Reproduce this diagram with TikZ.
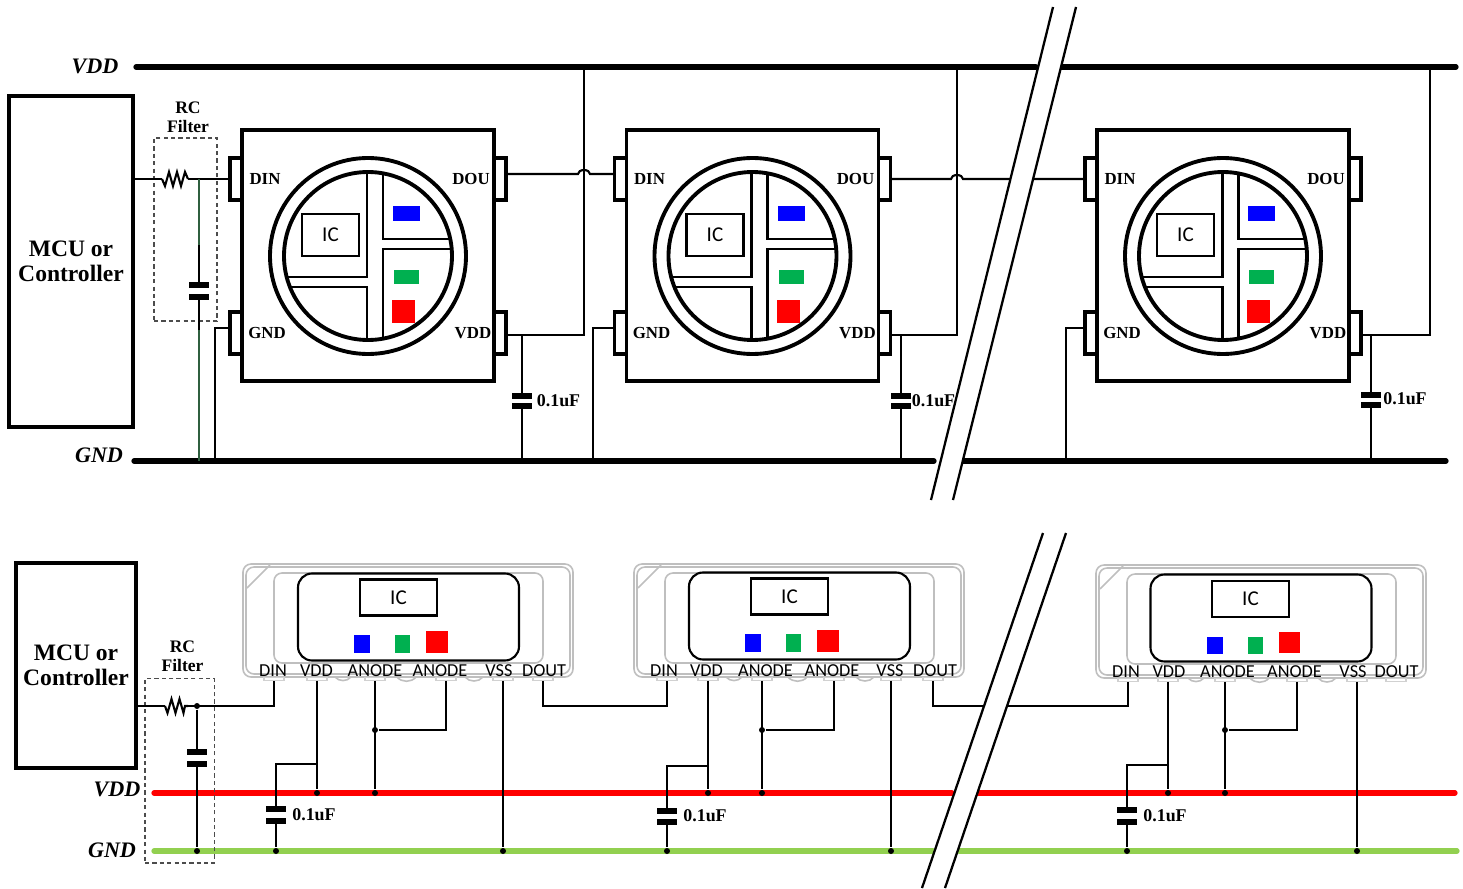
\documentclass[tikz,border=0pt]{standalone}
\usepackage{fontspec}
\setmainfont{Liberation Serif}
\newfontfamily\pinfont{Carlito}
\definecolor{ledgreen}{HTML}{00B050}
\definecolor{gndgreen}{HTML}{92D050}
\definecolor{tracegreen}{HTML}{2F5F3F}
\begin{document}
\begin{tikzpicture}
[
	rail/.style={line width=1.5pt,line cap=round},
	wire/.style={line width=0.6pt},
	mcu/.style={draw,line width=1.2pt,inner sep=0,outer sep=0,align=center,font=\bfseries\fontsize{6.7}{7}\selectfont},
	pin/.style={draw,fill=white,line width=1pt,inner sep=0,outer sep=0,minimum width=0.12cm,minimum height=0.42cm},
	body/.style={draw,line width=1.1pt,inner sep=0,outer sep=0,minimum width=2.52cm,minimum height=2.51cm},
	ring/.style={line width=1.1pt},
	cross/.style={line width=0.85pt},
	icbox/.style={draw,line width=0.6pt,fill=white,inner sep=0,font=\pinfont\fontsize{6}{7}\selectfont},
	toplabel/.style={font=\bfseries\fontsize{4.8}{5.5}\selectfont,inner sep=0},
	caplabel/.style={font=\bfseries\fontsize{5.1}{6}\selectfont,inner sep=0},
	rclabel/.style={font=\bfseries\fontsize{5}{5.4}\selectfont,inner sep=0,align=center},
	railname/.style={font=\bfseries\itshape\fontsize{6.3}{7}\selectfont,inner sep=0},
	plate/.style={fill=black,inner sep=0,outer sep=0,minimum width=0.2cm,minimum height=0.055cm},
	filterbox/.style={draw=black!70,line width=0.4pt,dash pattern=on 1.2pt off 0.9pt,inner sep=0},
	shell/.style={draw=black!25,line width=0.45pt,rounded corners=0.08cm},
	core/.style={draw,line width=0.6pt,inner sep=0,rounded corners=0.14cm,minimum width=2.21cm,minimum height=0.87cm},
	pad/.style={draw=black!18,fill=white,line width=0.3pt,inner sep=0,outer sep=0,minimum width=0.2cm,minimum height=0.035cm},
	pinname/.style={font=\pinfont\fontsize{5.2}{6}\selectfont,inner sep=0},
	dot/.style={circle,fill=black,inner sep=0,minimum size=0.06cm},
	slash/.style={line width=0.65pt}
]

\useasboundingbox (0,0) rectangle (14.63,-8.89);

% upper strip, chips first
\node[mcu,minimum width=1.24cm,minimum height=3.31cm] (mcuT) at (0.71,-2.615) {MCU or\\Controller};

\node[pin] (dinA) at (2.36,-1.79) {};
\node[pin] (gndA) at (2.36,-3.33) {};
\node[pin] (douA) at (5.00,-1.79) {};
\node[pin] (vddA) at (5.00,-3.33) {};
\node[body] (chipA) at (3.68,-2.555) {};
\draw[ring] (3.68,-2.56) circle (0.98);
\draw[ring] (3.68,-2.56) circle (0.84);
\draw[cross] (3.67,-1.72) |- (2.87,-2.77);
\draw[cross] (3.67,-3.40) |- (2.90,-2.87);
\draw[cross] (3.83,-1.73) |- (4.50,-2.39);
\draw[cross] (3.83,-3.39) |- (4.52,-2.49);
\node[icbox,minimum width=0.57cm,minimum height=0.42cm] (icA) at (3.305,-2.35) {IC};
\fill[blue] (3.93,-2.06) rectangle +(0.27,-0.15);
\fill[ledgreen] (3.94,-2.70) rectangle +(0.25,-0.14);
\fill[red] (3.92,-3.00) rectangle +(0.23,-0.23);
\node[toplabel] (dinAt) at (2.65,-1.79) {DIN};
\node[toplabel] (douAt) at (4.71,-1.79) {DOU};
\node[toplabel] (gndAt) at (2.67,-3.33) {GND};
\node[toplabel] (vddAt) at (4.73,-3.33) {VDD};

\node[pin] (dinB) at (6.205,-1.79) {};
\node[pin] (gndB) at (6.205,-3.33) {};
\node[pin] (douB) at (8.845,-1.79) {};
\node[pin] (vddB) at (8.845,-3.33) {};
\node[body] (chipB) at (7.525,-2.555) {};
\draw[ring] (7.525,-2.56) circle (0.98);
\draw[ring] (7.525,-2.56) circle (0.84);
\draw[cross] (7.515,-1.72) |- (6.715,-2.77);
\draw[cross] (7.515,-3.40) |- (6.745,-2.87);
\draw[cross] (7.675,-1.73) |- (8.345,-2.39);
\draw[cross] (7.675,-3.39) |- (8.365,-2.49);
\node[icbox,minimum width=0.57cm,minimum height=0.42cm] (icB) at (7.15,-2.35) {IC};
\fill[blue] (7.775,-2.06) rectangle +(0.27,-0.15);
\fill[ledgreen] (7.785,-2.70) rectangle +(0.25,-0.14);
\fill[red] (7.765,-3.00) rectangle +(0.23,-0.23);
\node[toplabel] (dinBt) at (6.495,-1.79) {DIN};
\node[toplabel] (douBt) at (8.555,-1.79) {DOU};
\node[toplabel] (gndBt) at (6.515,-3.33) {GND};
\node[toplabel] (vddBt) at (8.575,-3.33) {VDD};

\node[pin] (dinC) at (10.91,-1.79) {};
\node[pin] (gndC) at (10.91,-3.33) {};
\node[pin] (douC) at (13.55,-1.79) {};
\node[pin] (vddC) at (13.55,-3.33) {};
\node[body] (chipC) at (12.23,-2.555) {};
\draw[ring] (12.23,-2.56) circle (0.98);
\draw[ring] (12.23,-2.56) circle (0.84);
\draw[cross] (12.22,-1.72) |- (11.42,-2.77);
\draw[cross] (12.22,-3.40) |- (11.45,-2.87);
\draw[cross] (12.38,-1.73) |- (13.05,-2.39);
\draw[cross] (12.38,-3.39) |- (13.07,-2.49);
\node[icbox,minimum width=0.57cm,minimum height=0.42cm] (icC) at (11.855,-2.35) {IC};
\fill[blue] (12.48,-2.06) rectangle +(0.27,-0.15);
\fill[ledgreen] (12.49,-2.70) rectangle +(0.25,-0.14);
\fill[red] (12.47,-3.00) rectangle +(0.23,-0.23);
\node[toplabel] (dinCt) at (11.20,-1.79) {DIN};
\node[toplabel] (douCt) at (13.26,-1.79) {DOU};
\node[toplabel] (gndCt) at (11.22,-3.33) {GND};
\node[toplabel] (vddCt) at (13.28,-3.33) {VDD};


% upper rails
\node[railname] (vddT) at (0.95,-0.66) {VDD};
\node[railname] (gndT) at (0.99,-4.55) {GND};

\coordinate (vddTa) at (1.36,-0.67);
\coordinate (vddTb) at (10.36,-0.67);
\coordinate (vddTc) at (10.61,-0.67);
\coordinate (vddTd) at (14.56,-0.67);
\coordinate (gndTa) at (1.34,-4.61);
\coordinate (gndTb) at (9.34,-4.61);
\coordinate (gndTc) at (9.63,-4.61);
\coordinate (gndTd) at (14.46,-4.61);

\draw[rail] (vddTa) -- (vddTb);
\draw[rail] (vddTc) -- (vddTd);
\draw[rail] (gndTa) -- (gndTb);
\draw[rail] (gndTc) -- (gndTd);


% upper RC filter
\node[filterbox,minimum width=0.63cm,minimum height=1.83cm] (filterT) at (1.855,-2.295) {};
\node[rclabel] (rcT) at (1.88,-1.17) {RC\\Filter};

\coordinate (resTa) at (1.62,-1.79);
\coordinate (resTb) at (1.88,-1.79);
\coordinate (forkT) at (1.99,-1.79);
\coordinate (greenTa) at (1.99,-2.45);
\coordinate (greenTb) at (1.99,-3.30);
\coordinate (greenTc) at (1.99,-4.61);

\node[plate] (capTa) at (1.99,-2.85) {};
\node[plate] (capTb) at (1.99,-2.97) {};

\draw[wire] (mcuT.east |- dinA.west) -- (resTa);
\draw[wire] (resTa) -- ++(0.03,-0.07) -- ++(0.04,0.14) -- ++(0.04,-0.14) -- ++(0.04,0.14) -- ++(0.04,-0.14) -- ++(0.04,0.14) -- (resTb);
\draw[wire] (resTb) -- (dinA.west);
\draw[wire,tracegreen] (forkT) -- (greenTa);
\draw[wire] (greenTa) -- (capTa.north);
\draw[wire] (capTb.south) -- (greenTb);
\draw[wire,tracegreen] (greenTb) -- (greenTc);


% upper wires
\coordinate (gtapA) at (2.15,-4.61);
\coordinate (gtapB) at (5.93,-4.61);
\coordinate (gtapC) at (10.66,-4.61);
\coordinate (tapA) at (5.84,-0.67);
\coordinate (tapB) at (9.57,-0.67);
\coordinate (tapC) at (14.30,-0.67);
\coordinate (vjA) at (5.22,-3.35);
\coordinate (vjB) at (9.01,-3.35);
\coordinate (vjC) at (13.71,-3.35);

\draw[wire] ([yshift=0.05cm]gndA.west) -| (gtapA);
\draw[wire] ([yshift=0.05cm]gndB.west) -| (gtapB);
\draw[wire] ([yshift=0.05cm]gndC.west) -| (gtapC);
\draw[wire] (tapA) |- ([yshift=-0.02cm]vddA.east);
\draw[wire] (tapB) |- ([yshift=-0.02cm]vddB.east);
\draw[wire] (tapC) |- ([yshift=-0.02cm]vddC.east);

\draw[wire] ([yshift=0.05cm]douA.east) -- (5.78,-1.74) arc[start angle=180,end angle=0,x radius=0.06,y radius=0.04] -- ([yshift=0.05cm]dinB.west);
\draw[wire] (douB.east) -- (9.51,-1.79) arc[start angle=180,end angle=0,x radius=0.06,y radius=0.04] -- (dinC.west);

\node[plate] (capAa) at (5.22,-3.96) {};
\node[plate] (capAb) at (5.22,-4.06) {};
\node[plate] (capBa) at (9.01,-3.96) {};
\node[plate] (capBb) at (9.01,-4.06) {};
\node[plate] (capCa) at (13.71,-3.95) {};
\node[plate] (capCb) at (13.71,-4.05) {};

\draw[wire] (vjA) -- (capAa.north);
\draw[wire] (capAb.south) -- (capAb.south |- gndTa);
\draw[wire] (vjB) -- (capBa.north);
\draw[wire] (capBb.south) -- (capBb.south |- gndTa);
\draw[wire] (vjC) -- (capCa.north);
\draw[wire] (capCb.south) -- (capCb.south |- gndTa);

\node[caplabel] (ufA) at (5.585,-4.01) {0.1uF};
\node[caplabel] (ufB) at (9.335,-4.01) {0.1uF};
\node[caplabel] (ufC) at (14.05,-3.99) {0.1uF};


% upper break
\fill[white] (10.53,-0.07) -- (10.76,-0.07) -- (9.53,-5.00) -- (9.31,-5.00) -- cycle;
\draw[slash] (10.53,-0.07) -- (9.31,-5.00);
\draw[slash] (10.76,-0.07) -- (9.53,-5.00);


% lower strip, chips first
\node[mcu,minimum width=1.20cm,minimum height=2.05cm] (mcuL) at (0.76,-6.655) {MCU or\\Controller};

\draw[shell] (2.43,-5.64) rectangle +(3.30,-1.13);
\draw[shell] (2.46,-5.67) rectangle +(3.24,-1.07);
\draw[shell] (2.74,-5.73) rectangle +(2.69,-0.90);
\draw[shell,rounded corners=0] (2.47,-5.88) -- (2.70,-5.65);
\draw[shell] (3.35,-6.77) to[bend right=50] ++(0.16,0) (3.97,-6.77) to[bend right=50] ++(0.19,0) (4.65,-6.77) to[bend right=50] ++(0.18,0);
\node[core] (coreD) at (4.085,-6.17) {};
\node[icbox,minimum width=0.77cm,minimum height=0.36cm] (icD) at (3.985,-5.975) {IC};
\fill[blue] (3.54,-6.35) rectangle +(0.16,-0.18);
\fill[ledgreen] (3.95,-6.35) rectangle +(0.15,-0.18);
\fill[red] (4.26,-6.31) rectangle +(0.22,-0.22);
\node[pad] (dinD) at (2.74,-6.79) {};
\node[pad] (vddD) at (3.17,-6.79) {};
\node[pad] (anaD) at (3.75,-6.79) {};
\node[pad] (anbD) at (4.46,-6.79) {};
\node[pad] (vssD) at (5.03,-6.79) {};
\node[pad] (douD) at (5.43,-6.79) {};
\node[pinname] (dinDt) at (2.73,-6.71) {DIN};
\node[pinname] (vddDt) at (3.165,-6.71) {VDD};
\node[pinname] (anaDt) at (3.75,-6.71) {ANODE};
\node[pinname] (anbDt) at (4.40,-6.71) {ANODE};
\node[pinname] (vssDt) at (4.99,-6.71) {VSS};
\node[pinname] (douDt) at (5.44,-6.71) {DOUT};

\draw[shell] (6.34,-5.64) rectangle +(3.30,-1.13);
\draw[shell] (6.37,-5.67) rectangle +(3.24,-1.07);
\draw[shell] (6.65,-5.73) rectangle +(2.69,-0.90);
\draw[shell,rounded corners=0] (6.38,-5.88) -- (6.61,-5.65);
\draw[shell] (7.26,-6.77) to[bend right=50] ++(0.16,0) (7.88,-6.77) to[bend right=50] ++(0.19,0) (8.56,-6.77) to[bend right=50] ++(0.18,0);
\node[core] (coreE) at (7.995,-6.16) {};
\node[icbox,minimum width=0.77cm,minimum height=0.36cm] (icE) at (7.895,-5.965) {IC};
\fill[blue] (7.45,-6.34) rectangle +(0.16,-0.18);
\fill[ledgreen] (7.86,-6.34) rectangle +(0.15,-0.18);
\fill[red] (8.17,-6.30) rectangle +(0.22,-0.22);
\node[pad] (dinE) at (6.67,-6.79) {};
\node[pad] (vddE) at (7.08,-6.79) {};
\node[pad] (anaE) at (7.62,-6.79) {};
\node[pad] (anbE) at (8.34,-6.79) {};
\node[pad] (vssE) at (8.91,-6.79) {};
\node[pad] (douE) at (9.33,-6.79) {};
\node[pinname] (dinEt) at (6.64,-6.71) {DIN};
\node[pinname] (vddEt) at (7.065,-6.71) {VDD};
\node[pinname] (anaEt) at (7.655,-6.71) {ANODE};
\node[pinname] (anbEt) at (8.32,-6.71) {ANODE};
\node[pinname] (vssEt) at (8.90,-6.71) {VSS};
\node[pinname] (douEt) at (9.35,-6.71) {DOUT};

\draw[shell] (10.96,-5.65) rectangle +(3.30,-1.13);
\draw[shell] (10.99,-5.68) rectangle +(3.24,-1.07);
\draw[shell] (11.27,-5.74) rectangle +(2.69,-0.90);
\draw[shell,rounded corners=0] (11.00,-5.89) -- (11.23,-5.66);
\draw[shell] (11.88,-6.78) to[bend right=50] ++(0.16,0) (12.50,-6.78) to[bend right=50] ++(0.19,0) (13.18,-6.78) to[bend right=50] ++(0.18,0);
\node[core] (coreF) at (12.61,-6.18) {};
\node[icbox,minimum width=0.77cm,minimum height=0.36cm] (icF) at (12.505,-5.99) {IC};
\fill[blue] (12.07,-6.37) rectangle +(0.16,-0.17);
\fill[ledgreen] (12.48,-6.37) rectangle +(0.15,-0.17);
\fill[red] (12.79,-6.32) rectangle +(0.21,-0.21);
\node[pad] (dinF) at (11.28,-6.80) {};
\node[pad] (vddF) at (11.68,-6.80) {};
\node[pad] (anaF) at (12.25,-6.80) {};
\node[pad] (anbF) at (12.97,-6.80) {};
\node[pad] (vssF) at (13.57,-6.80) {};
\node[pad] (douF) at (13.96,-6.80) {};
\node[pinname] (dinFt) at (11.26,-6.72) {DIN};
\node[pinname] (vddFt) at (11.69,-6.72) {VDD};
\node[pinname] (anaFt) at (12.275,-6.72) {ANODE};
\node[pinname] (anbFt) at (12.945,-6.72) {ANODE};
\node[pinname] (vssFt) at (13.53,-6.72) {VSS};
\node[pinname] (douFt) at (13.965,-6.72) {DOUT};


% lower rails
\node[railname] (vddL) at (1.17,-7.89) {VDD};
\node[railname] (gndL) at (1.12,-8.50) {GND};

\coordinate (vddLa) at (1.54,-7.93);
\coordinate (vddLb) at (9.52,-7.93);
\coordinate (vddLc) at (9.78,-7.93);
\coordinate (vddLd) at (14.55,-7.93);
\coordinate (gndLa) at (1.54,-8.51);
\coordinate (gndLb) at (9.33,-8.51);
\coordinate (gndLc) at (9.59,-8.51);
\coordinate (gndLd) at (14.57,-8.51);

\draw[rail,red] (vddLa) -- (vddLb);
\draw[rail,red] (vddLc) -- (vddLd);
\draw[rail,gndgreen] (gndLa) -- (gndLb);
\draw[rail,gndgreen] (gndLc) -- (gndLd);


% lower RC filter
\node[filterbox,minimum width=0.695cm,minimum height=1.845cm] (filterL) at (1.7975,-7.7075) {};
\node[rclabel] (rcL) at (1.825,-6.565) {RC\\Filter};

\coordinate (resLa) at (1.65,-7.06);
\coordinate (resLb) at (1.88,-7.06);
\node[dot] (forkL) at (1.97,-7.06) {};
\node[dot] (forkLb) at (1.97,-8.51) {};
\node[plate] (capLa) at (1.97,-7.52) {};
\node[plate] (capLb) at (1.97,-7.64) {};

\draw[wire] (mcuL.east |- resLa) -- (resLa);
\draw[wire] (resLa) -- ++(0.025,-0.07) -- ++(0.04,0.14) -- ++(0.04,-0.14) -- ++(0.04,0.14) -- ++(0.04,-0.14) -- ++(0.015,0.07) -- (resLb);
\draw[wire] (resLb) -| (dinD.south);
\draw[wire] (forkL) -- (capLa.north);
\draw[wire] (capLb.south) -- (forkLb);


% lower wires, one chip after another
\node[dot] (vtapD) at (3.17,-7.93) {};
\node[dot] (atapD) at (3.75,-7.93) {};
\node[dot] (ajoinD) at (3.75,-7.30) {};
\node[dot] (gtapD) at (5.03,-8.51) {};
\node[dot] (ctapD) at (2.76,-8.51) {};
\node[plate] (capDa) at (2.76,-8.09) {};
\node[plate] (capDb) at (2.76,-8.21) {};
\coordinate (vjD) at (3.17,-7.64);
\draw[wire] (vddD.south) -- (vtapD);
\draw[wire] (anaD.south) -- (atapD);
\draw[wire] (anbD.south) |- (ajoinD);
\draw[wire] (vssD.south) -- (gtapD);
\draw[wire] (vjD) -| (capDa.north);
\draw[wire] (capDb.south) -- (ctapD);
\node[caplabel] (ufD) at (3.14,-8.15) {0.1uF};
\draw[wire] (douD.south) |- (5.43,-7.06) -| (dinE.south);

\node[dot] (vtapE) at (7.08,-7.93) {};
\node[dot] (atapE) at (7.62,-7.93) {};
\node[dot] (ajoinE) at (7.62,-7.30) {};
\node[dot] (gtapE) at (8.91,-8.51) {};
\node[dot] (ctapE) at (6.67,-8.51) {};
\node[plate] (capEa) at (6.67,-8.11) {};
\node[plate] (capEb) at (6.67,-8.22) {};
\coordinate (vjE) at (7.08,-7.66);
\draw[wire] (vddE.south) -- (vtapE);
\draw[wire] (anaE.south) -- (atapE);
\draw[wire] (anbE.south) |- (ajoinE);
\draw[wire] (vssE.south) -- (gtapE);
\draw[wire] (vjE) -| (capEa.north);
\draw[wire] (capEb.south) -- (ctapE);
\node[caplabel] (ufE) at (7.05,-8.16) {0.1uF};
\draw[wire] (douE.south) |- (9.33,-7.06) -| (dinF.south);

\node[dot] (vtapF) at (11.68,-7.93) {};
\node[dot] (atapF) at (12.25,-7.93) {};
\node[dot] (ajoinF) at (12.25,-7.30) {};
\node[dot] (gtapF) at (13.57,-8.51) {};
\node[dot] (ctapF) at (11.27,-8.51) {};
\node[plate] (capFa) at (11.27,-8.10) {};
\node[plate] (capFb) at (11.27,-8.22) {};
\coordinate (vjF) at (11.68,-7.65);
\draw[wire] (vddF.south) -- (vtapF);
\draw[wire] (anaF.south) -- (atapF);
\draw[wire] (anbF.south) |- (ajoinF);
\draw[wire] (vssF.south) -- (gtapF);
\draw[wire] (vjF) -| (capFa.north);
\draw[wire] (capFb.south) -- (ctapF);
\node[caplabel] (ufF) at (11.65,-8.16) {0.1uF};


% lower break
\fill[white] (10.43,-5.33) -- (10.66,-5.33) -- (9.45,-8.88) -- (9.22,-8.88) -- cycle;
\draw[slash] (10.43,-5.33) -- (9.22,-8.88);
\draw[slash] (10.66,-5.33) -- (9.45,-8.88);

\end{tikzpicture}
\end{document}
